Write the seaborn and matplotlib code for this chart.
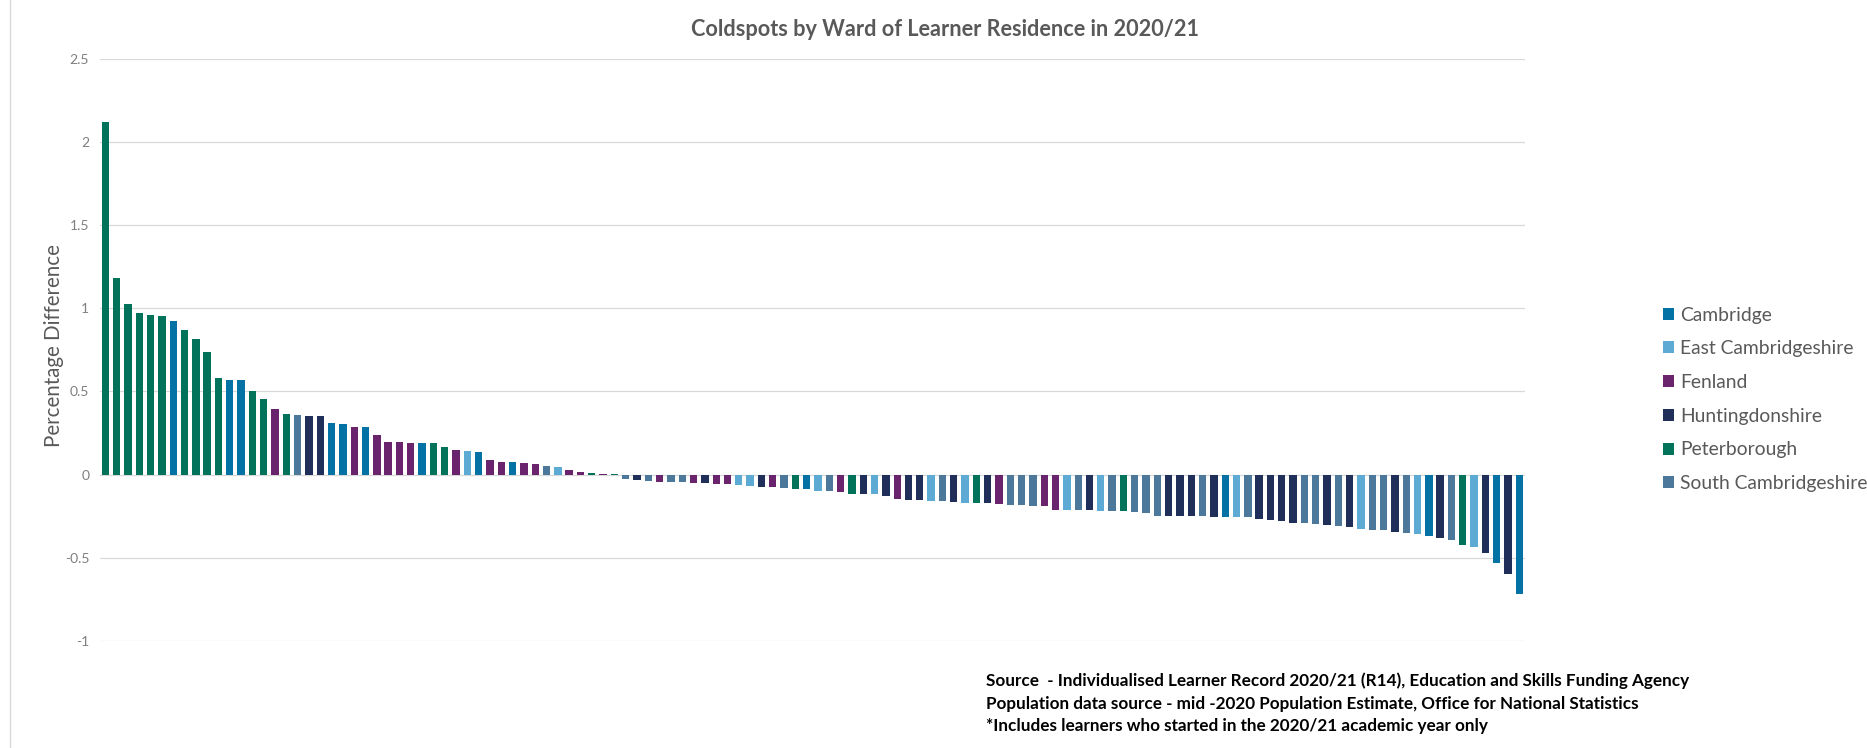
import matplotlib
matplotlib.use("Agg")
import matplotlib.pyplot as plt
from matplotlib.patches import Patch
from matplotlib.lines import Line2D
import seaborn as sns
import pandas as pd
import numpy as np

# ---------------- data ----------------
district_names = ["Cambridge", "East Cambridgeshire", "Fenland",
                  "Huntingdonshire", "Peterborough", "South Cambridgeshire"]
district_codes = ["C", "E", "F", "H", "P", "S"]
district_colors = ["#0472A5", "#5DAAD4", "#6A246E", "#1F2F5A", "#00735A", "#4C789C"]

ward_district = [
    "P", "P", "P", "P", "P", "P", "C", "P", "P", "P",
    "P", "C", "C", "P", "P", "F", "P", "S", "H", "H",
    "C", "C", "F", "C", "F", "F", "F", "F", "C", "P",
    "P", "F", "E", "C", "F", "F", "C", "F", "F", "S",
    "E", "F", "F", "P", "F", "P", "S", "H", "S", "F",
    "S", "S", "F", "H", "F", "F", "E", "E", "H", "F",
    "S", "P", "C", "E", "S", "F", "P", "H", "E", "H",
    "F", "H", "H", "E", "S", "H", "E", "P", "H", "F",
    "S", "S", "S", "F", "F", "E", "S", "H", "E", "S",
    "P", "S", "S", "S", "H", "H", "H", "S", "H", "C",
    "E", "S", "H", "H", "H", "H", "S", "S", "H", "S",
    "H", "E", "S", "S", "H", "S", "E", "C", "H", "S",
    "P", "E", "H", "C", "H", "C",
]
values = [
    2.118, 1.179, 1.022, 0.968, 0.958, 0.950, 0.924, 0.871, 0.813, 0.739,
    0.582, 0.570, 0.566, 0.502, 0.456, 0.392, 0.361, 0.357, 0.353, 0.349,
    0.309, 0.305, 0.287, 0.285, 0.239, 0.195, 0.194, 0.190, 0.189, 0.188,
    0.168, 0.146, 0.142, 0.138, 0.090, 0.078, 0.074, 0.072, 0.064, 0.052,
    0.044, 0.026, 0.014, 0.010, 0.006, 0.002, -0.028, -0.034, -0.040, -0.044,
    -0.044, -0.045, -0.050, -0.052, -0.056, -0.057, -0.064, -0.068, -0.072, -0.076,
    -0.080, -0.088, -0.089, -0.096, -0.100, -0.104, -0.114, -0.116, -0.117, -0.126,
    -0.148, -0.152, -0.153, -0.156, -0.160, -0.164, -0.172, -0.172, -0.173, -0.174,
    -0.182, -0.182, -0.186, -0.187, -0.210, -0.214, -0.214, -0.215, -0.216, -0.218,
    -0.218, -0.222, -0.228, -0.246, -0.246, -0.246, -0.247, -0.250, -0.252, -0.252,
    -0.252, -0.253, -0.264, -0.272, -0.276, -0.290, -0.291, -0.299, -0.303, -0.307,
    -0.315, -0.325, -0.333, -0.334, -0.345, -0.349, -0.355, -0.367, -0.383, -0.396,
    -0.426, -0.436, -0.474, -0.532, -0.600, -0.715,
]
ward_labels = ["Ward %d" % (i + 1) for i in range(len(values))]
ytick_values = [-1, -0.5, 0, 0.5, 1, 1.5, 2, 2.5]
ytick_labels = ["-1", "-0.5", "0", "0.5", "1", "1.5", "2", "2.5"]

title = "Coldspots by Ward of Learner Residence in 2020/21"
ylabel = "Percentage Difference"
notes = [
    "Source  - Individualised Learner Record 2020/21 (R14), Education and Skills Funding Agency",
    "Population data source - mid -2020 Population Estimate, Office for National Statistics",
    "*Includes learners who started in the 2020/21 academic year only",
]

# ---------------- figure ----------------
sns.set_style("white")
plt.rcParams["font.family"] = ["Lato", "DejaVu Sans"]

W, H = 1867, 748
fig = plt.figure(figsize=(W / 100, H / 100), dpi=100)
fig.patch.set_facecolor("white")

def fx(px):
    return px / W

def fy(py):
    return 1 - py / H

ax_left, ax_right, ax_top, ax_bottom = 99.7, 1525, 58.5, 641
ax = fig.add_axes([fx(ax_left), fy(ax_bottom), fx(ax_right) - fx(ax_left),
                   fy(ax_top) - fy(ax_bottom)])

code_to_name = dict(zip(district_codes, district_names))
palette = dict(zip(district_names, district_colors))
df = pd.DataFrame({
    "ward": ward_labels,
    "value": values,
    "district": [code_to_name[c] for c in ward_district],
})

sns.barplot(data=df, x="ward", y="value", hue="district",
            hue_order=district_names, palette=palette, dodge=False,
            width=0.65, saturation=1, linewidth=0, legend=False, ax=ax)

ax.set_xlim(-0.5, len(values) - 0.5)
ax.set_ylim(-1, 2.5)
ax.set_yticks(ytick_values)
ax.set_yticklabels(ytick_labels)
ax.set_xticks([])
ax.set_xlabel("")
ax.grid(axis="y", color="#D9D9D9", linewidth=0.9)
ax.set_axisbelow(True)
for s in ax.spines.values():
    s.set_visible(False)
ax.tick_params(axis="y", length=0, pad=7.5, labelsize=10, labelcolor="#7F7F7F")

ax.set_ylabel(ylabel, fontsize=14.8, color="#595959")
ax.yaxis.label.set_va("center")
ax.yaxis.set_label_coords((54 - ax_left) / (ax_right - ax_left),
                          (ax_bottom - 346) / (ax_bottom - ax_top))

# legend
handles = [Patch(facecolor=c, edgecolor="none", label=n)
           for n, c in zip(district_names, district_colors)]
leg = ax.legend(handles=handles, loc="center left",
                bbox_to_anchor=(fx(1662.7), fy(399.3)), bbox_transform=fig.transFigure,
                frameon=False, borderpad=0, borderaxespad=0,
                fontsize=13.9, handlelength=0.585, handleheight=0.585,
                handletextpad=0.3, labelspacing=0.865, labelcolor="#595959")

# title and notes
t_title = fig.text(fx(945), fy(30), title, ha="center", va="center",
                   fontsize=16, fontweight="bold", color="#595959")
note_ys = [681, 704, 726]
note_texts = [fig.text(fx(986), fy(y), s, ha="left", va="center",
                       fontsize=11, fontweight="bold", color="#000000")
              for y, s in zip(note_ys, notes)]

# left border line of chart area
fig.add_artist(Line2D([fx(10), fx(10)], [0, 1], color="#D9D9D9", linewidth=1))

# fit text sizes to the reference extents
fig.canvas.draw()
r = fig.canvas.get_renderer()

def fit(t, target):
    bb = t.get_window_extent(r)
    t.set_fontsize(t.get_fontsize() * target / bb.width)

fit(t_title, 507)
bb = note_texts[0].get_window_extent(r)
scale = 700 / bb.width
for t in note_texts:
    t.set_fontsize(t.get_fontsize() * scale)

fig.savefig("out.png", dpi=100, facecolor="white")
